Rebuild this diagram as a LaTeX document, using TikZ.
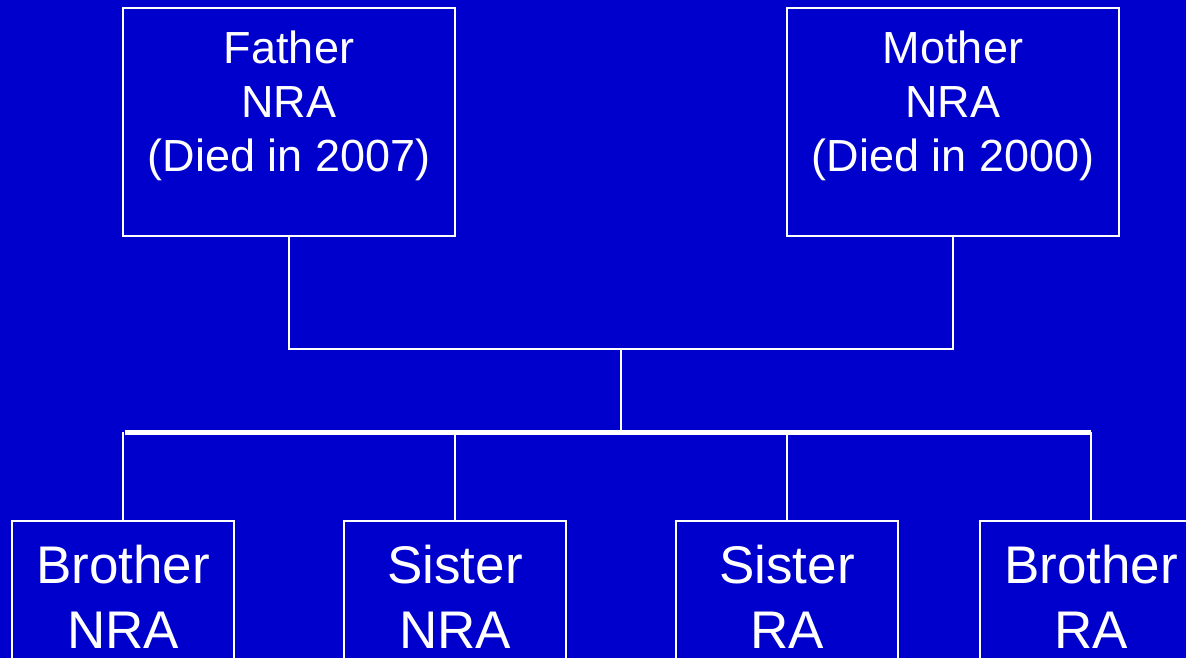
\documentclass[tikz,border=0pt]{standalone}
\usepackage{fontspec}
\setmainfont{Liberation Sans}
\definecolor{bg}{HTML}{0000CC}
\begin{document}
\begin{tikzpicture}[x=1pt,y=-1pt,
  box/.style={draw=white,line width=2pt,rectangle,inner sep=0pt},
  toptext/.style={text=white,align=center,inner sep=0pt,anchor=north,font=\fontsize{45}{54}\selectfont},
  bottext/.style={text=white,align=center,inner sep=0pt,anchor=north,font=\fontsize{53}{65}\selectfont},
  thin/.style={draw=white,line width=2pt},
  thick/.style={draw=white,line width=5pt}]
\useasboundingbox (0,0) rectangle (1186,658);
\clip (0,0) rectangle (1186,658);
\fill[bg] (0,0) rectangle (1186,658);
% top boxes
\node[box,minimum width=332pt,minimum height=228pt] (father) at (289,122) {};
\node[box,minimum width=332pt,minimum height=228pt] (mother) at (953,122) {};
\node[toptext] (fathert) at (289,31) {Father\\NRA\\(Died in 2007)};
\node[toptext] (mothert) at (953,31) {Mother\\NRA\\(Died in 2000)};
% bottom boxes
\node[box,minimum width=222pt,minimum height=200pt] (b1) at (123,621) {};
\node[box,minimum width=222pt,minimum height=200pt] (s1) at (455,621) {};
\node[box,minimum width=222pt,minimum height=200pt] (s2) at (787,621) {};
\node[box,minimum width=222pt,minimum height=200pt] (b2) at (1091,621) {};
\node[bottext] (b1t) at (123,545) {Brother\\NRA};
\node[bottext] (s1t) at (455,545) {Sister\\NRA};
\node[bottext] (s2t) at (787,545) {Sister\\RA};
\node[bottext] (b2t) at (1091,545) {Brother\\RA};
% connectors
\coordinate (fm) at (621,349);
\coordinate (bar) at (621,432);
\coordinate (barl) at (125,432);
\coordinate (barr) at (1091,432);
\draw[thin] (father.south) |- (fm) -| (mother.south);
\draw[thin] (fm) -- (bar);
\draw[thick] (barl) -- (barr);
\draw[thin] (b1.north) -- (b1.north |- bar);
\draw[thin] (s1.north) -- (s1.north |- bar);
\draw[thin] (s2.north) -- (s2.north |- bar);
\draw[thin] (b2.north) -- (b2.north |- bar);
\end{tikzpicture}
\end{document}
